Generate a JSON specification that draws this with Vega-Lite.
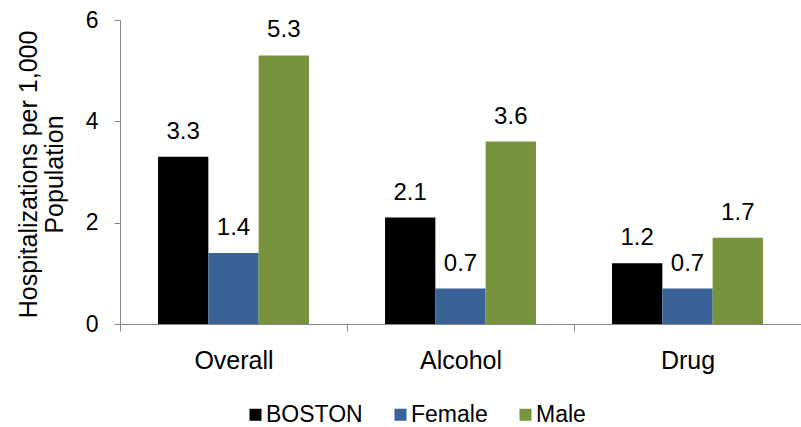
{
  "$schema": "https://vega.github.io/schema/vega-lite/v6.json",
  "width": 681,
  "height": 304,
  "autosize": "none",
  "padding": {"left": 120, "top": 20, "right": 0, "bottom": 103},
  "config": {"view": {"stroke": null}, "font": "Liberation Sans"},
  "data": {
    "values": [
      {"category": "Overall", "group": "BOSTON", "value": 3.3},
      {"category": "Overall", "group": "Female", "value": 1.4},
      {"category": "Overall", "group": "Male", "value": 5.3},
      {"category": "Alcohol", "group": "BOSTON", "value": 2.1},
      {"category": "Alcohol", "group": "Female", "value": 0.7},
      {"category": "Alcohol", "group": "Male", "value": 3.6},
      {"category": "Drug", "group": "BOSTON", "value": 1.2},
      {"category": "Drug", "group": "Female", "value": 0.7},
      {"category": "Drug", "group": "Male", "value": 1.7}
    ]
  },
  "encoding": {
    "x": {
      "field": "category",
      "type": "nominal",
      "sort": ["Overall", "Alcohol", "Drug"],
      "scale": {"paddingInner": 0, "paddingOuter": 0},
      "axis": {
        "title": null,
        "labelAngle": 0,
        "domainColor": "#878787",
        "tickColor": "#878787",
        "tickSize": 7,
        "tickBand": "extent",
        "labelPadding": 17,
        "labelFontSize": 25,
        "labelColor": "#000000",
        "grid": false
      }
    },
    "xOffset": {
      "field": "group",
      "sort": ["BOSTON", "Female", "Male"],
      "scale": {"paddingInner": 0, "paddingOuter": 0.756}
    },
    "y": {
      "field": "value",
      "type": "quantitative",
      "scale": {"domain": [0, 6]},
      "axis": {
        "values": [0, 2, 4, 6],
        "grid": false,
        "domainColor": "#878787",
        "tickColor": "#878787",
        "tickSize": 6,
        "labelPadding": 16,
        "labelFontSize": 23,
        "labelColor": "#000000",
        "title": ["Hospitalizations per 1,000", "Population"],
        "titleFontSize": 25,
        "titleFontWeight": "normal",
        "titleColor": "#000000",
        "titleLineHeight": 26,
        "titleBaseline": "middle",
        "titleAlign": "center",
        "titleAngle": -90,
        "titleX": -92,
        "titleY": 154
      }
    }
  },
  "layer": [
    {
      "mark": {"type": "bar"},
      "encoding": {
        "color": {
          "field": "group",
          "type": "nominal",
          "scale": {"domain": ["BOSTON", "Female", "Male"], "range": ["#000000", "#3A6296", "#77933C"]},
          "legend": {
            "orient": "none",
            "legendX": 124,
            "legendY": 383,
            "direction": "horizontal",
            "title": null,
            "symbolType": "square",
            "symbolSize": 144,
            "symbolStrokeWidth": 0,
            "labelFontSize": 23,
            "labelOffset": -1,
            "labelColor": "#000000",
            "columnPadding": 26,
            "padding": 0
          }
        }
      }
    },
    {
      "mark": {"type": "text", "baseline": "alphabetic", "dy": -18, "fontSize": 24, "color": "#000000"},
      "encoding": {
        "text": {"field": "value", "type": "quantitative", "format": ".1f"}
      }
    }
  ]
}
